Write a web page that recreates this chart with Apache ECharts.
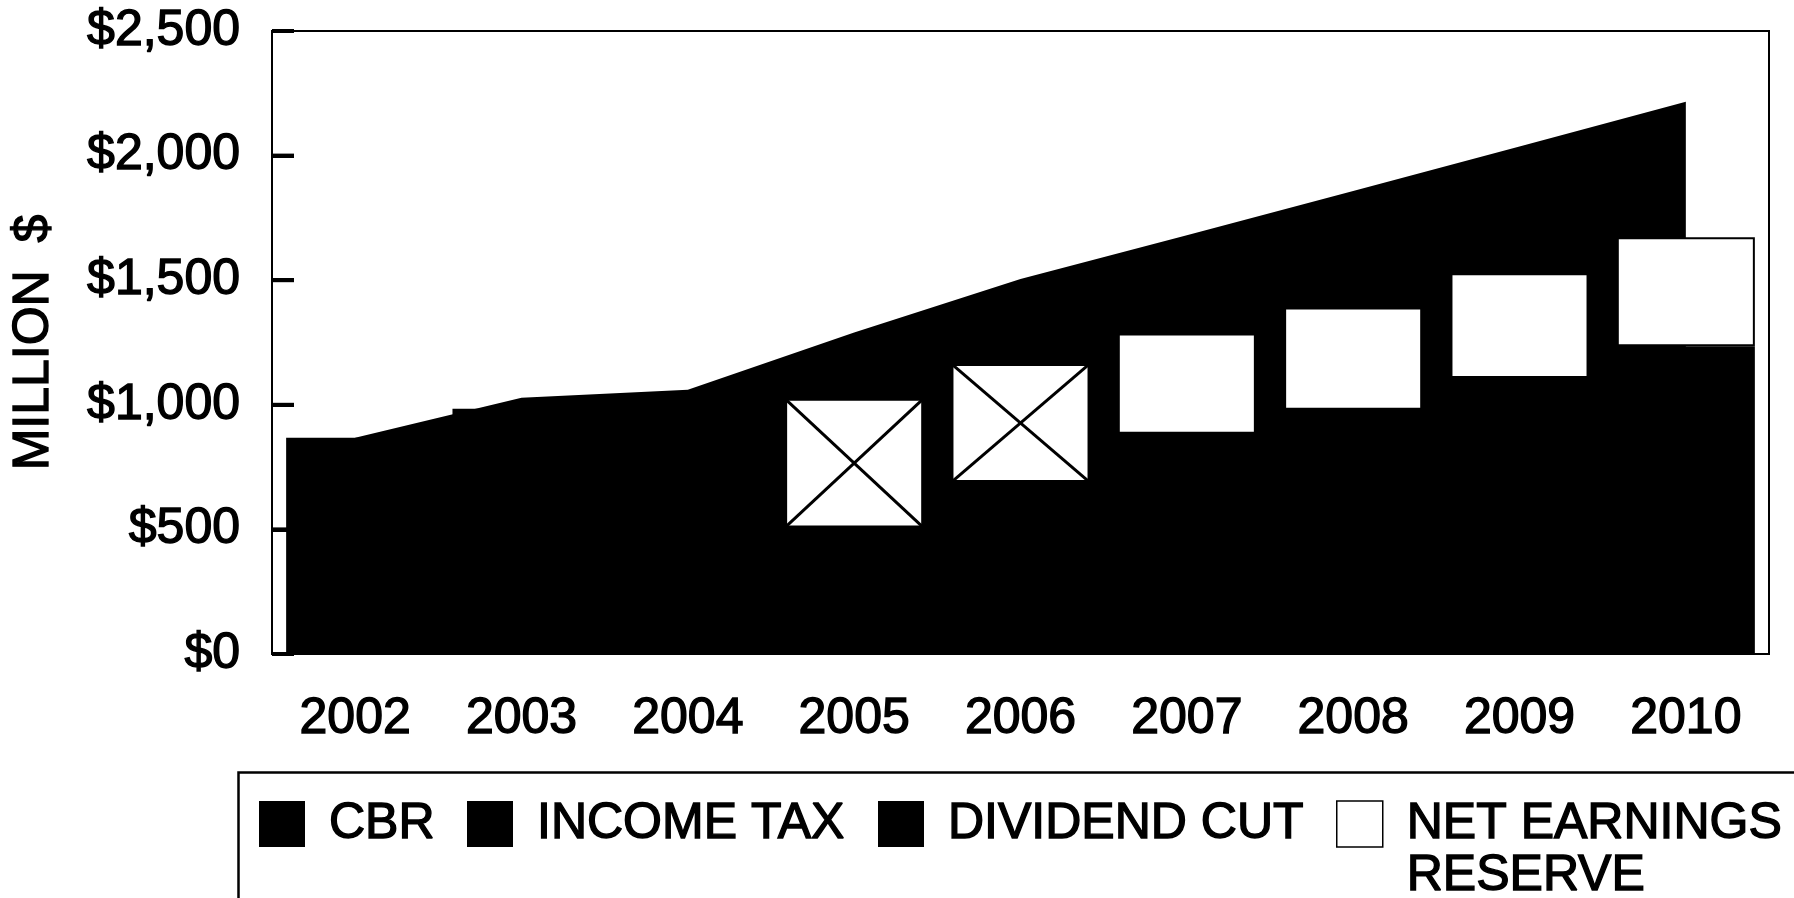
<!DOCTYPE html>
<html>
<head>
<meta charset="utf-8">
<script src="https://cdn.jsdelivr.net/npm/echarts@6/dist/echarts.min.js"></script>
<style>
  html, body { margin: 0; padding: 0; background: #fff; }
  #chart { width: 1794px; height: 898px; }
</style>
</head>
<body>
<div id="chart"></div>
<script>
// Years on the category axis
const years = ['2002', '2003', '2004', '2005', '2006', '2007', '2008', '2009', '2010'];

// Upper envelope of the black area, million $
const incomeTax = [868, 1028, 1060, 1290, 1505, 1680, 1858, 2037, 2216];

// Black column under each reserve box, million $
const cbr = [868, 984, 1040, 508, 690, 884, 980, 1108, 1235];

// Dividend cut (not separable in the black stack)
const dividendCut = [null, null, null, null, null, null, null, null, null];

// Net earnings reserve boxes, million $
const netEarningsReserve = [null, null, null, 516, 474, 402, 410, 420, 437];

// Years whose reserve box is struck through
const crossedYears = ['2005', '2006'];

// Value axis ticks and their labels
const yTicks = [0, 500, 1000, 1500, 2000, 2500];
const yTickLabels = ['$0', '$500', '$1,000', '$1,500', '$2,000', '$2,500'];

const FONT = "'Liberation Sans', Arial, sans-serif";
const BAR_FRACTION = 0.83;
const TICK_LENGTH = 22;
// Slight outline thickens the glyphs a little, like heavy print
const INK = { textBorderColor: '#000', textBorderWidth: 1.4 };

const crossData = years
  .map((y, i) => [i, cbr[i], cbr[i] + (netEarningsReserve[i] || 0), y])
  .filter(d => crossedYears.indexOf(d[3]) >= 0)
  .map(d => [d[0], d[1], d[2]]);

const tickData = yTicks.map(v => [0, v]);

const legendToken = (width, pad) => Object.assign(
  { fontSize: 50, lineHeight: 52, fontFamily: FONT, color: '#000', padding: [0, 0, 0, pad] },
  width ? { width: width } : {},
  INK
);

const chart = echarts.init(document.getElementById('chart'), null, { renderer: 'canvas' });

chart.setOption({
  backgroundColor: '#fff',
  animation: false,
  textStyle: { fontFamily: FONT, color: '#000' },
  grid: {
    left: 272, right: 25, top: 31, bottom: 244,
    containLabel: false,
    outerBoundsMode: 'none',
    show: true,
    borderColor: '#000',
    borderWidth: 2,
    backgroundColor: 'transparent'
  },
  xAxis: {
    type: 'category',
    data: years,
    axisLine: { show: true, lineStyle: { color: '#000', width: 2 } },
    axisTick: { show: false },
    splitLine: { show: false },
    axisLabel: Object.assign({ color: '#000', fontSize: 50, fontFamily: FONT, margin: 40, interval: 0 }, INK)
  },
  yAxis: {
    type: 'value',
    min: yTicks[0],
    max: yTicks[yTicks.length - 1],
    interval: yTicks[1] - yTicks[0],
    name: 'MILLION  $',
    nameLocation: 'middle',
    nameRotate: 90,
    nameGap: 213,
    nameTextStyle: Object.assign({ color: '#000', fontSize: 50, fontFamily: FONT }, INK),
    axisLine: { show: true, lineStyle: { color: '#000', width: 2 } },
    axisTick: { show: true, inside: true, length: TICK_LENGTH, lineStyle: { color: '#000', width: 4 } },
    splitLine: { show: false },
    axisLabel: Object.assign({
      color: '#000', fontSize: 50, fontFamily: FONT, margin: 32,
      formatter: v => yTickLabels[yTicks.indexOf(v)]
    }, INK)
  },
  legend: {
    selectedMode: false,
    left: 259,
    top: 746,
    padding: 0,
    itemGap: 0,
    itemWidth: 46,
    itemHeight: 46,
    textStyle: Object.assign({
      color: '#000', fontSize: 50, fontFamily: FONT, lineHeight: 52,
      rich: {
        cbr:  legendToken(138, 19),
        tax:  legendToken(341, 19),
        div:  legendToken(388, 19),
        ner1: legendToken(null, 19),
        ner2: legendToken(null, 19)
      }
    }, INK),
    formatter: function (name) {
      if (name === 'CBR') return '{cbr|CBR}';
      if (name === 'INCOME TAX') return '{tax|INCOME TAX}';
      if (name === 'DIVIDEND CUT') return '{div|DIVIDEND CUT}';
      return '{ner1|NET EARNINGS}\n{ner2|RESERVE}';
    },
    data: [
      { name: 'CBR', icon: 'rect', itemStyle: { color: '#000' } },
      { name: 'INCOME TAX', icon: 'rect', itemStyle: { color: '#000' } },
      { name: 'DIVIDEND CUT', icon: 'rect', itemStyle: { color: '#000' } },
      {
        name: 'NET EARNINGS RESERVE', icon: 'rect',
        itemStyle: { color: '#fff', borderColor: '#000', borderWidth: 1.5 },
        textStyle: { padding: [52, 0, 0, 0] }
      }
    ]
  },
  graphic: [
    {
      type: 'rect',
      left: 236, top: 770,
      shape: { width: 1620, height: 200 },
      style: { fill: 'none', stroke: '#000', lineWidth: 2.5 },
      silent: true,
      z: -1
    }
  ],
  series: [
    {
      name: 'INCOME TAX',
      type: 'line',
      data: incomeTax,
      symbol: 'none',
      lineStyle: { width: 0, color: '#000' },
      itemStyle: { color: '#000' },
      areaStyle: { color: '#000', opacity: 1 },
      z: 1,
      silent: true
    },
    {
      name: 'CBR',
      type: 'bar',
      stack: 'revenue',
      data: cbr,
      barWidth: (BAR_FRACTION * 100) + '%',
      itemStyle: { color: '#000' },
      z: 2
    },
    {
      name: 'DIVIDEND CUT',
      type: 'bar',
      stack: 'revenue',
      data: dividendCut,
      barWidth: (BAR_FRACTION * 100) + '%',
      itemStyle: { color: '#000' },
      z: 2
    },
    {
      name: 'NET EARNINGS RESERVE',
      type: 'bar',
      stack: 'revenue',
      data: netEarningsReserve,
      barWidth: (BAR_FRACTION * 100) + '%',
      itemStyle: { color: '#fff', borderColor: '#000', borderWidth: 2 },
      z: 2
    },
    {
      // Diagonal strike-through across the reserve boxes of selected years
      type: 'custom',
      data: crossData,
      encode: { x: 0, y: [1, 2] },
      z: 3,
      silent: true,
      renderItem: function (params, api) {
        const i = api.value(0);
        const lo = api.coord([i, api.value(1)]);
        const hi = api.coord([i, api.value(2)]);
        const w = api.size([1, 0])[0] * BAR_FRACTION;
        const x0 = lo[0] - w / 2, x1 = lo[0] + w / 2;
        const st = { stroke: '#000', lineWidth: 3 };
        return {
          type: 'group',
          children: [
            { type: 'line', shape: { x1: x0, y1: hi[1], x2: x1, y2: lo[1] }, style: st },
            { type: 'line', shape: { x1: x0, y1: lo[1], x2: x1, y2: hi[1] }, style: st }
          ]
        };
      }
    },
    {
      // Inward tick marks on the value axis, placed by the axis scale
      type: 'custom',
      data: tickData,
      encode: { x: 0, y: 1 },
      z: 4,
      silent: true,
      renderItem: function (params, api) {
        const y = api.coord([0, api.value(1)])[1];
        const x = params.coordSys.x;
        return {
          type: 'line',
          shape: { x1: x, y1: y, x2: x + TICK_LENGTH, y2: y },
          style: { stroke: '#000', lineWidth: 4 }
        };
      }
    }
  ]
});
</script>
</body>
</html>
